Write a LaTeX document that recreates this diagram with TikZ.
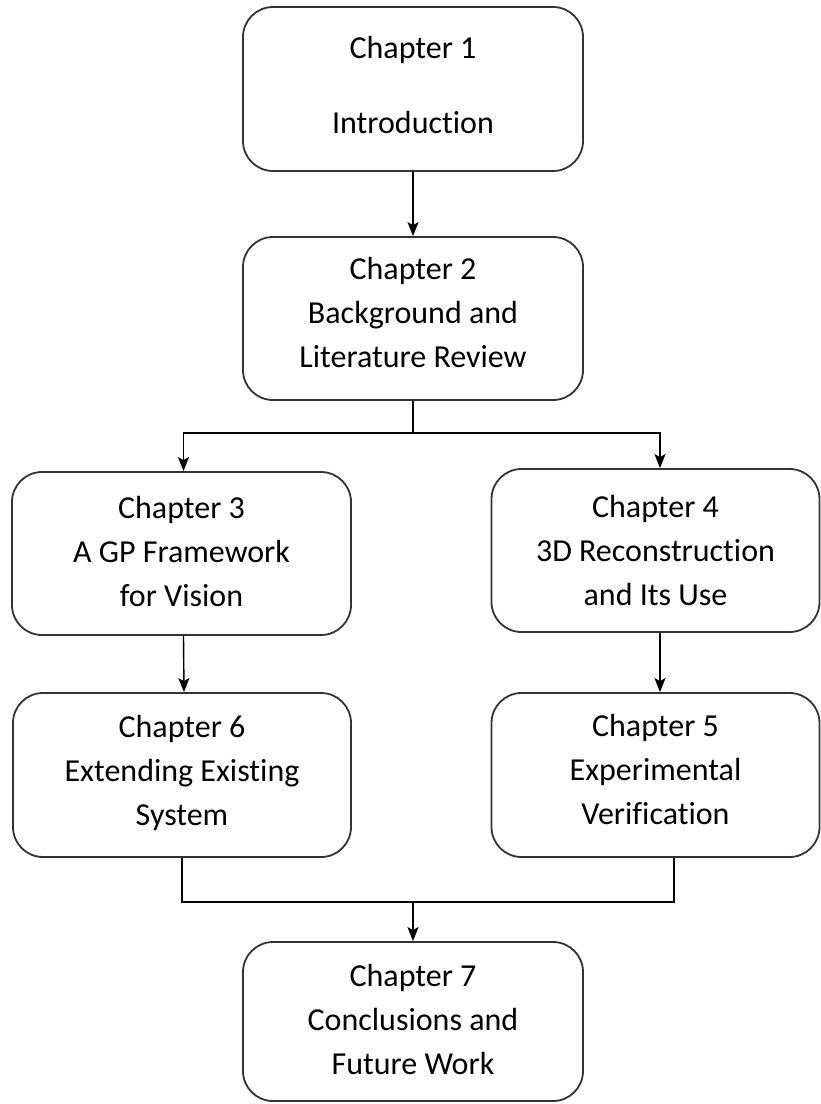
\documentclass[tikz,border=0pt]{standalone}
\usepackage{fontspec}
\setmainfont{Carlito}[Ligatures=NoCommon]
\usetikzlibrary{arrows.meta,calc}
\begin{document}
\begin{tikzpicture}[x=1pt,y=-1pt,
  chapbox/.style={draw=black!80, line width=1.8pt, rounded corners=30pt, inner sep=0pt},
  chaptext/.style={align=center, font=\fontsize{32}{44}\selectfont, inner sep=0pt},
  wide/.style={minimum width=340pt},
  narrow/.style={minimum width=328pt},
  link/.style={line width=1.4pt, draw=black},
  arr/.style={link, -{Stealth[length=14pt,width=11pt,inset=3pt]}}]
\useasboundingbox (0,0) rectangle (821,1104);

% chapter boxes
\node[chapbox, wide, minimum height=164pt] (c1) at (413,89) {};
\node[chapbox, wide, minimum height=163pt] (c2) at (413,318.5) {};
\node[chapbox, minimum width=339pt, minimum height=163pt] (c3) at (181.5,553.5) {};
\node[chapbox, narrow, minimum height=163pt] (c4) at (655.5,550.5) {};
\node[chapbox, minimum width=338pt, minimum height=164pt] (c6) at (182,775) {};
\node[chapbox, narrow, minimum height=164pt] (c5) at (655.5,775) {};
\node[chapbox, wide, minimum height=159pt] (c7) at (413,1021.5) {};

% chapter titles
\node[chaptext] (t1) at ($(c1)+(0,-4)$) {Chapter 1\\[31pt]Introduction};
\node[chaptext] (t2) at ($(c2)+(0,-6)$) {Chapter 2\\Background and\\Literature Review};
\node[chaptext] (t3) at ($(c3)+(0,-2.5)$) {Chapter 3\\A GP Framework\\for Vision};
\node[chaptext] (t4) at ($(c4)+(0,0)$) {Chapter 4\\3D Reconstruction\\and Its Use};
\node[chaptext] (t6) at ($(c6)+(0,-2)$) {Chapter 6\\Extending Existing\\System};
\node[chaptext] (t5) at ($(c5)+(0,-5.5)$) {Chapter 5\\Experimental\\Verification};
\node[chaptext] (t7) at ($(c7)+(0,-2.5)$) {Chapter 7\\Conclusions and\\Future Work};

% connectors
\draw[arr] (c1) -- (c2);
\coordinate (split) at (413,433);
\draw[link] (c2.south) -- (split);
\draw[arr] (split) -| ($(c3.north)+(2,0)$);
\draw[arr] (split) -| ($(c4.north)+(4.5,0)$);
\draw[arr] ($(c3.south)+(2,0)$) -- ($(c6.north)+(2,0)$);
\draw[arr] ($(c4.south)+(4.5,0)$) -- ($(c5.north)+(4.5,0)$);
\coordinate (join) at (413,902);
\draw[link] (c6.south) |- (join);
\draw[link] ($(c5.south)+(18.5,0)$) |- (join);
\draw[arr] (join) -- (c7);
\end{tikzpicture}
\end{document}
